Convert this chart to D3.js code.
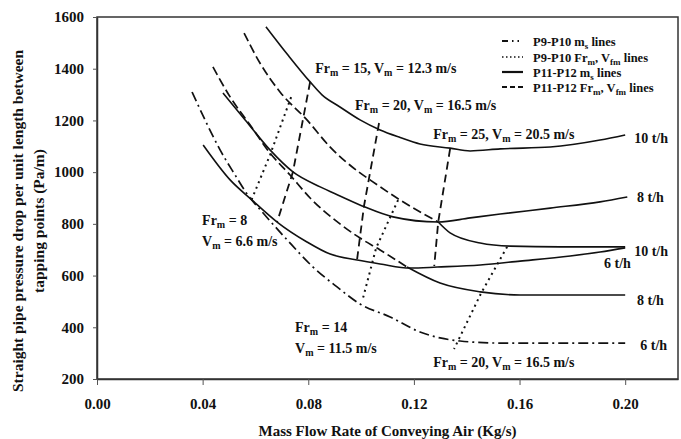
<!DOCTYPE html>
<html>
<head>
<meta charset="utf-8">
<script src="https://cdn.jsdelivr.net/npm/d3@7/dist/d3.min.js"></script>
<style>
  html, body { margin: 0; padding: 0; background: #fff; }
  svg { display: block; font-family: "Liberation Serif", "Times New Roman", serif; font-weight: bold; }
</style>
</head>
<body>
<svg id="chart" width="681" height="439"></svg>
<script>
// ---- Pressure drop (Pa/m) vs. air mass flow rate (kg/s) ----

// P11-P12 solids-rate lines
const p11_10th = [[0.0640,1562],[0.0723,1453],[0.0807,1349],[0.0852,1299],[0.0920,1252],[0.0996,1202],[0.1072,1163],[0.1148,1134],[0.1223,1109],[0.1337,1093],[0.1413,1082],[0.1527,1090],[0.1716,1097],[0.1905,1124],[0.2000,1144]];
const p11_8th  = [[0.0477,1306],[0.0561,1202],[0.0655,1086],[0.0742,1001],[0.0845,943],[0.0920,908],[0.1015,865],[0.1121,827],[0.1292,807],[0.1413,823],[0.1527,838],[0.1716,861],[0.1905,885],[0.2008,904]];
const p11_6th  = [[0.0402,1105],[0.0504,970],[0.0587,892],[0.0682,807],[0.0795,730],[0.0883,683],[0.0985,660],[0.1072,645],[0.1186,629],[0.1288,633],[0.1451,641],[0.1602,656],[0.1792,676],[0.1905,691],[0.2000,707]];

// P9-P10 solids-rate lines
const p9_10th = [[0.0557,1538],[0.0617,1422],[0.0693,1310],[0.0795,1202],[0.0883,1097],[0.0996,997],[0.1034,970],[0.1148,892],[0.1292,807],[0.1337,765],[0.1451,726],[0.1564,714],[0.1754,711],[0.2000,711]];
const p9_8th  = [[0.0439,1407],[0.0504,1291],[0.0580,1182],[0.0655,1074],[0.0731,989],[0.0807,900],[0.0920,800],[0.0996,745],[0.1072,699],[0.1174,633],[0.1299,571],[0.1451,537],[0.1602,525],[0.2000,525]];
const p9_6th  = [[0.0360,1310],[0.0409,1202],[0.0466,1086],[0.0523,989],[0.0568,916],[0.0629,842],[0.0720,738],[0.0818,633],[0.0909,556],[0.0996,490],[0.1110,440],[0.1223,382],[0.1299,359],[0.1375,347],[0.1527,339],[0.2000,339]];

// Constant Froude number lines (10, 8, 6 t/h crossings)
const p11_fr15 = [[0.0807,1349],[0.0742,1001],[0.0682,807]];
const p11_fr20 = [[0.1068,1190],[0.1011,869],[0.0985,664]];
const p11_fr25 = [[0.1337,1090],[0.1292,807],[0.1277,637]];
const p9_fr8   = [[0.0735,1290],[0.0655,1066],[0.0580,880]];
const p9_fr14  = [[0.1140,892],[0.1057,707],[0.1004,500]];
const p9_fr20  = [[0.1553,711],[0.1455,533],[0.1352,316]];

// Axis ticks
const xTicks = [0.00, 0.04, 0.08, 0.12, 0.16, 0.20];
const yTicks = [200, 400, 600, 800, 1000, 1200, 1400, 1600];

// Curve annotations (text, and anchor in data units)
const noteText = [
  "Fr_{m} = 15, V_{m} = 12.3 m/s",
  "Fr_{m} = 20, V_{m} = 16.5 m/s",
  "Fr_{m} = 25, V_{m} = 20.5 m/s",
  "Fr_{m} = 8",
  "V_{m} = 6.6 m/s",
  "Fr_{m} = 14",
  "V_{m} = 11.5 m/s",
  "Fr_{m} = 20, V_{m} = 16.5 m/s",
  "10 t/h", "8 t/h", "10 t/h", "6 t/h", "8 t/h", "6 t/h"
];
const noteAt = [
  [0.0826,1384],[0.0977,1240],[0.1273,1128],
  [0.0398,796],[0.0398,714],
  [0.0750,382],[0.0750,300],
  [0.1273,246],
  [0.2034,1113],[0.2045,885],[0.2034,676],[0.1920,629],[0.2045,486],[0.2057,312]
];

const legendText = ["P9-P10 m_{s} lines", "P9-P10 Fr_{m}, V_{fm} lines", "P11-P12 m_{s} lines", "P11-P12 Fr_{m}, V_{fm} lines"];

// ---- drawing ----
const svg = d3.select("#chart");
const W = 681, H = 439;
const m = { left: 97, right: 3, top: 17, bottom: 60 };

const x = d3.scaleLinear().domain([0, 0.22]).range([m.left, W - m.right]);
const y = d3.scaleLinear().domain([200, 1600]).range([H - m.bottom, m.top]);

const ink = "#111";

// frame
svg.append("rect")
  .attr("x", x(0)).attr("y", y(1600))
  .attr("width", x(0.22) - x(0)).attr("height", y(200) - y(1600))
  .attr("fill", "none").attr("stroke", "#333").attr("stroke-width", 1.5);

// axes
const xAxis = svg.append("g")
  .attr("transform", `translate(0,${y(200)})`)
  .call(d3.axisBottom(x).tickValues(xTicks).tickFormat(d3.format(".2f")).tickSize(6).tickSizeOuter(0).tickPadding(13));
const yAxis = svg.append("g")
  .attr("transform", `translate(${x(0)},0)`)
  .call(d3.axisLeft(y).tickValues(yTicks).tickFormat(d3.format("d")).tickSize(4).tickSizeOuter(0).tickPadding(9));
[xAxis, yAxis].forEach(g => {
  g.select(".domain").attr("stroke", "#333").attr("stroke-width", 1.5);
  g.selectAll(".tick line").attr("stroke", "#555").attr("stroke-width", 1);
  g.selectAll(".tick text").attr("fill", ink).attr("font-size", 15)
    .attr("font-family", "Liberation Serif, Times New Roman, serif").attr("font-weight", "bold");
});

// axis titles
svg.append("text")
  .attr("x", (x(0) + x(0.22)) / 2).attr("y", 436)
  .attr("text-anchor", "middle").attr("font-size", 15).attr("fill", ink)
  .text("Mass Flow Rate of Conveying Air (Kg/s)");
const yt = svg.append("text")
  .attr("transform", "translate(23,221) rotate(-90)")
  .attr("text-anchor", "middle").attr("font-size", 15.5).attr("fill", ink);
yt.append("tspan").attr("x", 0).attr("dy", 0).text("Straight pipe pressure drop per unit length between");
yt.append("tspan").attr("x", 0).attr("dy", 21).text("tapping points (Pa/m)");

// text with _{...} subscripts
function rich(textSel, str, subSize) {
  const parts = str.split(/_\{([^}]*)\}/);
  let down = false;
  parts.forEach((p, i) => {
    if (p === "") return;
    const t = textSel.append("tspan").text(p);
    if (i % 2 === 1) {
      t.attr("font-size", subSize);
      if (!down) { t.attr("dy", 3); down = true; }
    } else if (down) {
      t.attr("dy", -3); down = false;
    }
  });
}

// line styles
const style = {
  p11ms: { dash: null, w: 1.6 },
  p11fr: { dash: "8,5", w: 1.8 },
  p9fr:  { dash: "2,4", w: 2 },
  p9dd:  { dash: "10,4,2,4", w: 1.7 },
  p9lg:  { dash: "9,4", w: 1.7 }
};

const smooth = d3.line().x(d => x(d[0])).y(d => y(d[1])).curve(d3.curveMonotoneX);
const straight = d3.line().x(d => x(d[0])).y(d => y(d[1]));

function draw(pts, st, gen) {
  svg.append("path").attr("d", gen(pts))
    .attr("fill", "none").attr("stroke", ink)
    .attr("stroke-width", st.w)
    .attr("stroke-dasharray", st.dash)
    .attr("stroke-linejoin", "round");
}
// a curve drawn broken up to a flow rate, then continuous
function drawSplit(pts, st, solidFrom) {
  draw(pts.filter(d => d[0] <= solidFrom), st, smooth);
  draw(pts.filter(d => d[0] >= solidFrom), style.p11ms, smooth);
}

[p11_10th, p11_8th, p11_6th].forEach(c => draw(c, style.p11ms, smooth));
drawSplit(p9_10th, style.p9lg, 0.1292);
drawSplit(p9_8th, style.p9lg, 0.1174);
draw(p9_6th, style.p9dd, smooth);

[p11_fr15, p11_fr20, p11_fr25].forEach(c => draw(c, style.p11fr, straight));
[p9_fr8, p9_fr14, p9_fr20].forEach(c => draw(c, style.p9fr, straight));

// annotations
noteText.forEach((s, i) => {
  const t = svg.append("text")
    .attr("x", x(noteAt[i][0])).attr("y", y(noteAt[i][1]))
    .attr("font-size", 14).attr("fill", ink);
  rich(t, s, 10);
});

// legend
const legStyles = [
  { dash: "6,4,1.5,4,1.5,4", w: 2 },
  { dash: "1.5,2.5", w: 1.6 },
  { dash: null, w: 2.2 },
  { dash: "5,3", w: 2.2 }
];
const legY = [41, 57, 72, 87];
legendText.forEach((s, i) => {
  const g = svg.append("g").attr("transform", `translate(502,${legY[i]})`);
  g.append("line").attr("x1", 0).attr("x2", 21).attr("y1", 0).attr("y2", 0)
    .attr("stroke", ink).attr("stroke-width", legStyles[i].w)
    .attr("stroke-dasharray", legStyles[i].dash);
  const t = g.append("text").attr("x", 31).attr("y", 4.5).attr("font-size", 12.5).attr("fill", ink);
  rich(t, s, 9);
});
</script>
</body>
</html>
